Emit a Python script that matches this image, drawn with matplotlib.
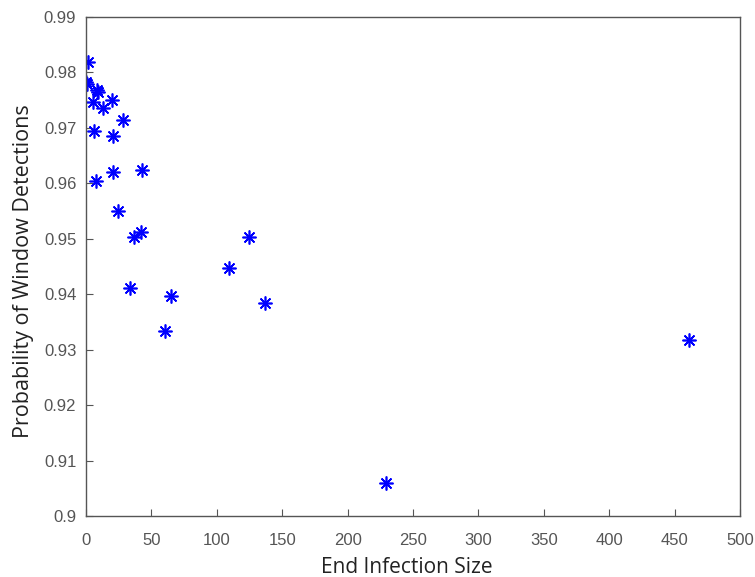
import matplotlib
matplotlib.use('Agg')
from matplotlib import pyplot as plt

# End infection size vs probability of window detections
infection_size = [1.8, 0.0, 1.0, 8.2, 9.4, 5.6, 19.6, 12.7, 28.0, 6.4, 20.9,
                  20.9, 42.5, 7.4, 24.7, 36.9, 42.0, 124.6, 109.7, 33.6,
                  64.7, 136.9, 60.4, 461.0, 229.0]
detection_prob = [0.9819, 0.9783, 0.9780, 0.9768, 0.9765, 0.9747, 0.9751,
                  0.9735, 0.9715, 0.9694, 0.9685, 0.9621, 0.9624, 0.9604,
                  0.9550, 0.9504, 0.9513, 0.9504, 0.9448, 0.9412, 0.9397,
                  0.9385, 0.9334, 0.9317, 0.9059]

x_ticks = list(range(0, 501, 50))
y_ticks = [0.90, 0.91, 0.92, 0.93, 0.94, 0.95, 0.96, 0.97, 0.98, 0.99]

fig = plt.figure(figsize=(7.55, 5.77), dpi=100)
ax = fig.add_axes([86 / 755, 1 - 516 / 577, (740 - 86) / 755, (516 - 17) / 577])

ax.plot(infection_size, detection_prob, linestyle='none', marker=(8, 2, 0),
        color='#0000ff', markersize=10, markeredgewidth=1.2)

ax.set_xlim(0, 500)
ax.set_ylim(0.9, 0.99)
ax.set_xticks(x_ticks)
ax.set_yticks(y_ticks)
ax.set_yticklabels(['0.9'] + ['%.2f' % v for v in y_ticks[1:]])

for s in ax.spines.values():
    s.set_color('#555555')
    s.set_linewidth(1.0)
ax.tick_params(direction='in', length=5, color='#555555', labelcolor='#555555',
               labelsize=12, top=False, right=False)
ax.tick_params(axis='x', pad=12)
ax.tick_params(axis='y', pad=7)
for lab in ax.get_xticklabels() + ax.get_yticklabels():
    lab.set_family('Liberation Sans')

ax.set_xlabel('End Infection Size', fontsize=15, family='Open Sans', color='#222222')
ax.set_ylabel('Probability of Window Detections', fontsize=15.5, family='Open Sans', color='#222222')
ax.xaxis.set_label_coords(0.49, -0.083)
ax.yaxis.set_label_coords(-0.08, 0.49)

plt.savefig('out.png', dpi=100)
